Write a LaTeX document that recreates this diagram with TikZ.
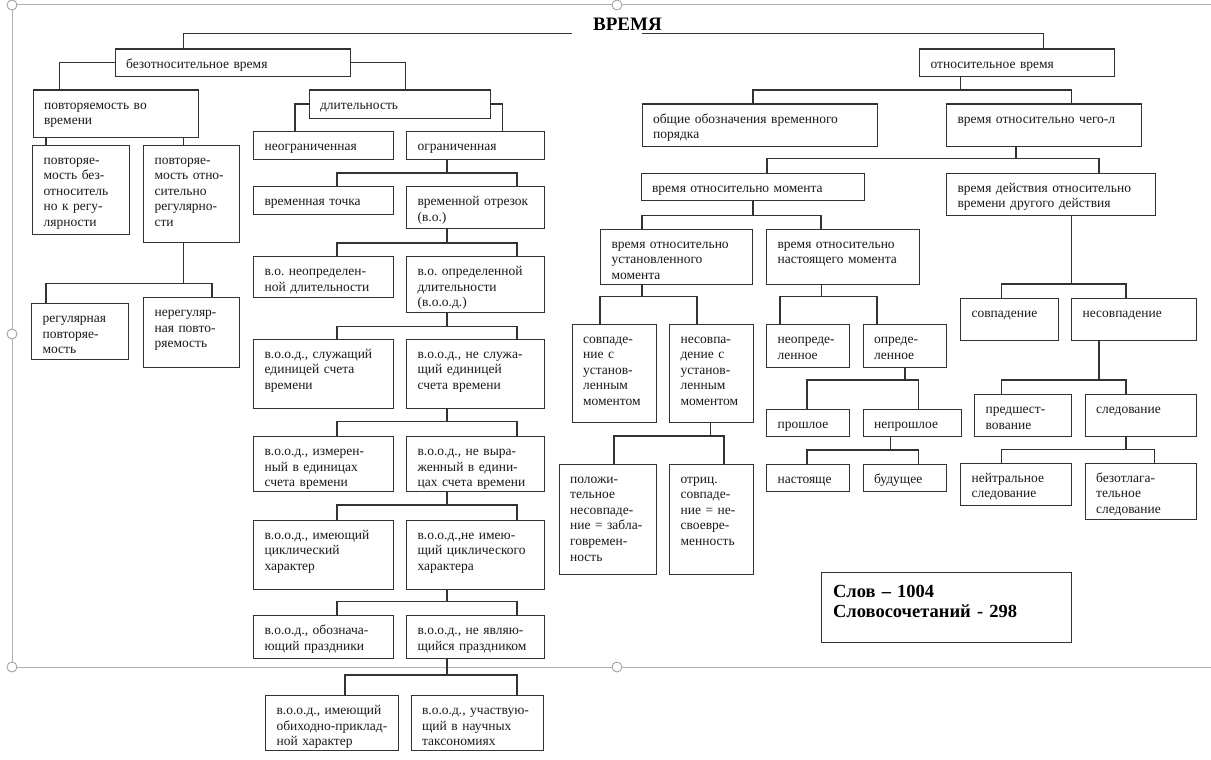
\documentclass[tikz,border=0pt]{standalone}
\usepackage{fontspec}
\setmainfont{Liberation Serif}
\frenchspacing
\def\cellfont{\fontsize{13.5}{15.6}\selectfont}
\def\headfont{\bfseries\fontsize{19}{22}\selectfont}

\tikzset{
  cell/.style={draw=black!80, line width=1.2pt, anchor=north west, align=left,
    inner xsep=11pt, inner ysep=0pt, text height=19pt, font=\cellfont, text=black!90,
    execute at begin node={\rightskip=0pt plus 1fil minus 15pt}},
  box/.code 2 args={\pgfmathsetmacro\boxw{#1-22}\pgfmathsetmacro\boxd{#2-19}%
    \tikzset{cell, text width=\boxw pt, text depth=\boxd pt}},
  link/.style={draw=black!80, line width=1.2pt},
  frame/.style={draw=black!30, line width=0.9pt},
  handle/.style={draw=black!40, fill=white, line width=0.8pt},
}

\begin{document}
\begin{tikzpicture}[x=1pt, y=-1pt]
  \useasboundingbox (0,0) rectangle (1211,760);
  \draw[frame] (1211,4) -- (12,4) -- (12,667) -- (1211,667);
  \foreach \p in {(12,5),(617,5),(12,334),(12,667),(617,667)}
    \draw[handle] \p circle (5pt);

  \node[font=\headfont, anchor=base west, inner sep=0pt] (vremya) at (593,31) {ВРЕМЯ};
  \coordinate (rootL) at (572,33.5);
  \coordinate (rootR) at (641.5,33.5);

  % безотносительное время
  \node[box={235.5}{27.5}] (bezotn) at (114.5,48.5) {безотносительное время};
  \node[box={165}{47}] (povt) at (32.5,89.5) {повторяемость во\\времени};
  \node[box={181.5}{28}] (dlit) at (308.5,89.5) {длительность};
  \node[box={97}{89.5}] (povtA) at (32,144.5) {повторяе-\\мость без-\\относитель\\но к регу-\\лярности};
  \node[box={96}{97.5}] (povtB) at (143,144.5) {повторяе-\\мость отно-\\сительно\\регулярно-\\сти};
  \node[box={97}{56}] (reg) at (31,303) {регулярная\\повторяе-\\мость};
  \node[box={96}{70}] (nereg) at (143,297) {нерегуляр-\\ная повто-\\ряемость};
  \node[box={140}{27.5}] (neogr) at (253,131) {неограниченная};
  \node[box={138}{27.5}] (ogr) at (406,131) {ограниченная};
  \node[box={140}{28}] (vtoch) at (253,186) {временная точка};
  \node[box={138}{42}] (votr) at (406,186) {временной отрезок\\(в.о.)};
  \node[box={140}{41}] (vonep) at (253,256) {в.о. неопределен-\\ной длительности};
  \node[box={138}{56}] (vood) at (406,256) {в.о. определенной\\длительности\\(в.о.о.д.)};
  \node[box={140}{69}] (sluzh) at (253,338.5) {в.о.о.д., служащий\\единицей счета\\времени};
  \node[box={138}{69}] (nesluzh) at (406,338.5) {в.о.о.д., не служа-\\щий единицей\\счета времени};
  \node[box={140}{55}] (izm) at (253,436) {в.о.о.д., измерен-\\ный в единицах\\счета времени};
  \node[box={138}{55}] (nevyr) at (406,436) {в.о.о.д., не выра-\\женный  в едини-\\цах счета времени};
  \node[box={140}{69}] (cikl) at (253,519.5) {в.о.о.д., имеющий\\циклический\\характер};
  \node[box={138}{69}] (necikl) at (406,519.5) {в.о.о.д.,не имею-\\щий циклического\\характера};
  \node[box={140}{42.5}] (prazd) at (253,615) {в.о.о.д., обознача-\\ющий праздники};
  \node[box={138}{42.5}] (neprazd) at (406,615) {в.о.о.д., не являю-\\щийся праздником};
  \node[box={132.5}{55}] (obih) at (265,695) {в.о.о.д., имеющий\\обиходно-приклад-\\ной характер};
  \node[box={132}{55}] (nauch) at (410.5,695) {в.о.о.д., участвую-\\щий в научных\\таксономиях};

  % относительное время
  \node[box={194.5}{27.5}] (otn) at (919,48.5) {относительное время};
  \node[box={235}{42}] (obsch) at (641.5,103.5) {общие обозначения временного\\порядка};
  \node[box={195}{42}] (chego) at (946,103.5) {время относительно чего-л};
  \node[box={223}{27.5}] (moment) at (640.5,172.5) {время относительно момента};
  \node[box={208.5}{42}] (drugogo) at (946,172.5) {время действия относительно\\времени другого действия};
  \node[box={151.5}{55}] (ustan) at (600,228.5) {время относительно\\установленного\\момента};
  \node[box={152.5}{55}] (nastoy) at (766,228.5) {время относительно\\настоящего момента};
  \node[box={84.5}{98.5}] (sovpU) at (571.5,323.5) {совпаде-\\ние с\\установ-\\ленным\\моментом};
  \node[box={83.5}{98.5}] (nesovpU) at (669,323.5) {несовпа-\\дение с\\установ-\\ленным\\моментом};
  \node[box={97.5}{110.5}] (polozh) at (558.5,463.5) {положи-\\тельное\\несовпаде-\\ние = забла-\\говремен-\\ность};
  \node[box={83.5}{110.5}] (otric) at (669,463.5) {отриц.\\совпаде-\\ние = не-\\своевре-\\менность};
  \node[box={83}{42.5}] (neopr) at (766,324) {неопреде-\\ленное};
  \node[box={83.5}{42.5}] (opr) at (862.5,324) {опреде-\\ленное};
  \node[box={83}{27.5}] (proshl) at (766,408.5) {прошлое};
  \node[box={98}{27.5}] (neproshl) at (862.5,408.5) {непрошлое};
  \node[box={83}{27.5}] (nast) at (766,463.5) {настояще};
  \node[box={83.5}{27.5}] (bud) at (862.5,463.5) {будущее};
  \node[box={97.5}{42}] (sovp) at (960,297.5) {совпадение};
  \node[box={125}{42}] (nesovp) at (1071,297.5) {несовпадение};
  \node[box={97}{41.5}] (predsh) at (974,394) {предшест-\\вование};
  \node[box={111.5}{41.5}] (sled) at (1084.5,394) {следование};
  \node[box={111}{42.5}] (neitr) at (960,462.5) {нейтральное\\следование};
  \node[box={111.5}{56.5}] (bezotl) at (1084.5,462.5) {безотлага-\\тельное\\следование};

  \node[cell, font=\bfseries\fontsize{18.5}{20}\selectfont, text=black, inner xsep=12pt,
    text height=25pt, text width=226.5pt, text depth=45.5pt] (stat) at (820.5,571.5)
    {Слов – 1004\\Словосочетаний - 298};

  % left branch
  \draw[link] (rootL) -| (183.5,0 |- bezotn.north);
  \draw[link] (bezotn.west) -| (59.5,0 |- povt.north);
  \draw[link] (bezotn.east) -| (405.5,0 |- dlit.north);
  \draw[link] (46,0 |- povt.south) -- (46,0 |- povtA.north);
  \draw[link] (183.5,0 |- povt.south) -- (183.5,0 |- povtB.north);
  \draw[link] (183.5,0 |- povtB.south) -- (183.5,283.5) (46,0 |- reg.north) |- (212,283.5) -- (212,0 |- nereg.north);
  \draw[link] (dlit.west) -| (295,0 |- neogr.north);
  \draw[link] (dlit.east) -| (502.5,0 |- ogr.north);
  \draw[link] (447,0 |- ogr.south) -- (447,173) (337,0 |- vtoch.north) |- (517,173) -- (517,0 |- votr.north);
  \draw[link] (447,0 |- votr.south) -- (447,243) (337,0 |- vonep.north) |- (517,243) -- (517,0 |- vood.north);
  \draw[link] (447,0 |- vood.south) -- (447,326.5) (337,0 |- sluzh.north) |- (517,326.5) -- (517,0 |- nesluzh.north);
  \draw[link] (447,0 |- nesluzh.south) -- (447,421.5) (337,0 |- izm.north) |- (517,421.5) -- (517,0 |- nevyr.north);
  \draw[link] (447,0 |- nevyr.south) -- (447,505) (337,0 |- cikl.north) |- (517,505) -- (517,0 |- necikl.north);
  \draw[link] (447,0 |- necikl.south) -- (447,601.5) (337,0 |- prazd.north) |- (517,601.5) -- (517,0 |- neprazd.north);
  \draw[link] (447,0 |- neprazd.south) -- (447,675) (345,0 |- obih.north) |- (517,675) -- (517,0 |- nauch.north);

  % right branch
  \draw[link] (rootR) -| (1043.5,0 |- otn.north);
  \draw[link] (960.5,0 |- otn.south) -- (960.5,90) (753,0 |- obsch.north) |- (1071.5,90) -- (1071.5,0 |- chego.north);
  \draw[link] (1016,0 |- chego.south) -- (1016,158.5) (767,0 |- moment.north) |- (1099,158.5) -- (1099,0 |- drugogo.north);
  \draw[link] (753,0 |- moment.south) -- (753,215.5) (642,0 |- ustan.north) |- (821,215.5) -- (821,0 |- nastoy.north);
  \draw[link] (642,0 |- ustan.south) -- (642,296.5) (600,0 |- sovpU.north) |- (697,296.5) -- (697,0 |- nesovpU.north);
  \draw[link] (821.5,0 |- nastoy.south) -- (821.5,296.5) (780,0 |- neopr.north) |- (877,296.5) -- (877,0 |- opr.north);
  \draw[link] (905,0 |- opr.south) -- (905,380) (807,0 |- proshl.north) |- (918.5,380) -- (918.5,0 |- neproshl.north);
  \draw[link] (890.5,0 |- neproshl.south) -- (890.5,450) (807,0 |- nast.north) |- (918.5,450) -- (918.5,0 |- bud.north);
  \draw[link] (710.5,0 |- nesovpU.south) -- (710.5,436) (614,0 |- polozh.north) |- (724,436) -- (724,0 |- otric.north);
  \draw[link] (1071.5,0 |- drugogo.south) -- (1071.5,284) (1001.5,0 |- sovp.north) |- (1126,284) -- (1126,0 |- nesovp.north);
  \draw[link] (1099,0 |- nesovp.south) -- (1099,380) (1001.5,0 |- predsh.north) |- (1126,380) -- (1126,0 |- sled.north);
  \draw[link] (1126,0 |- sled.south) -- (1126,449.5) (1001.5,0 |- neitr.north) |- (1154.5,449.5) -- (1154.5,0 |- bezotl.north);
\end{tikzpicture}
\end{document}
